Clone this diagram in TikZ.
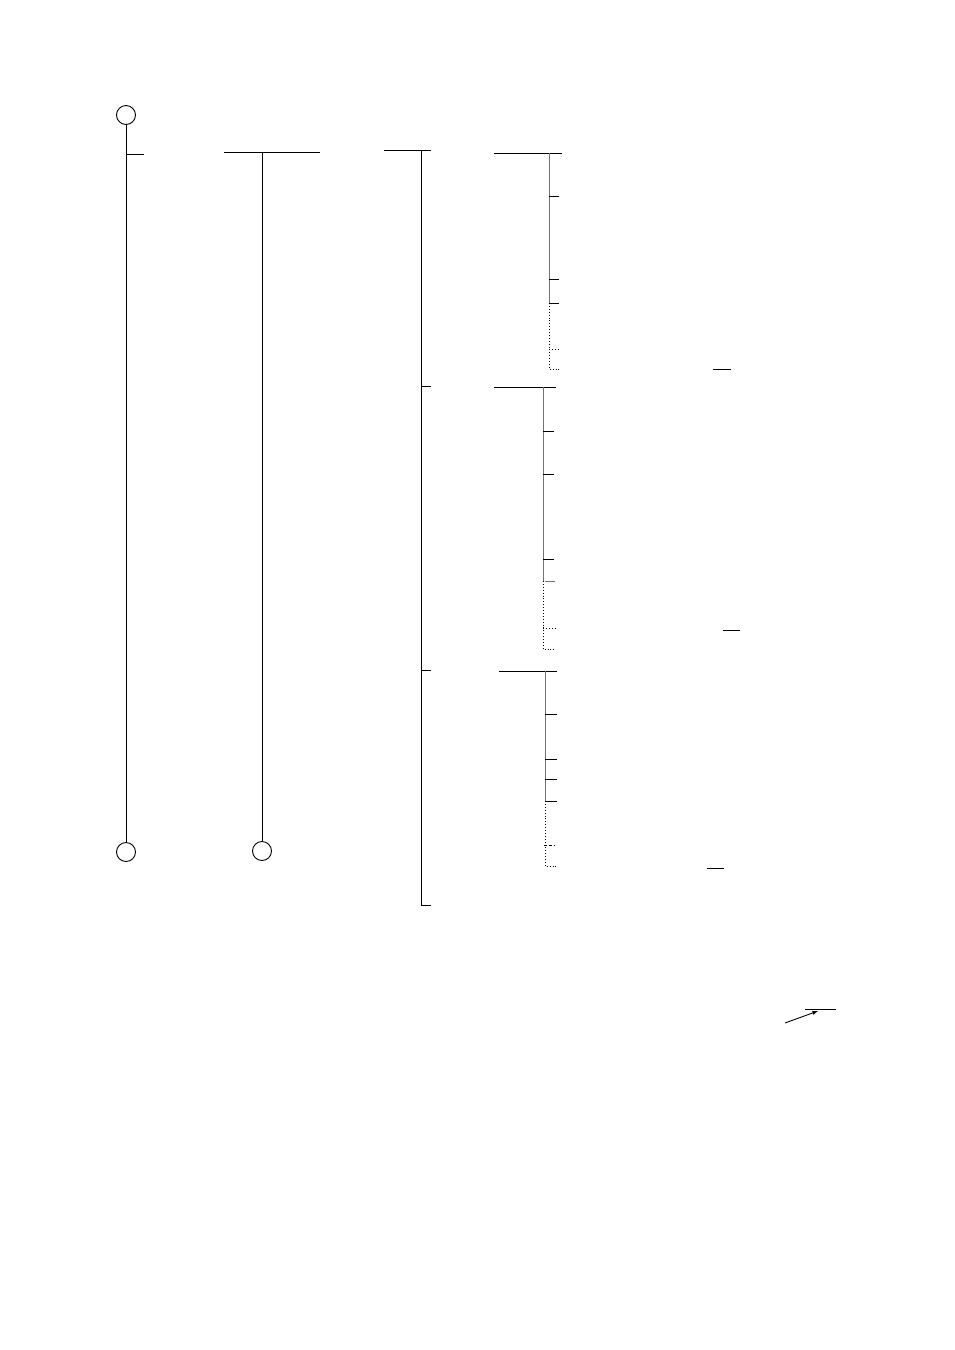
\documentclass[tikz,border=0pt]{standalone}
\usepackage{tikz}
\usetikzlibrary{arrows, calc}

\tikzset{
    port/.style={draw, circle, minimum size=19pt, inner sep=0pt, line width=0.9pt},
    stem/.style={line width=0.9pt},
    grey stem/.style={line width=1pt, black!55},
    open end/.style={line width=0.9pt, dotted},
}

\begin{document}
\begin{tikzpicture}[x=1pt, y=-1pt]
            \useasboundingbox (0,0) rectangle (954,1350);

            % left bus with two ports
            \node[port] (p1) at (126,115) {};
            \node[port] (p2) at (126,852) {};
            \draw[stem] (p1.south) -- (p2.north);
            \coordinate (t1) at (144,154);
            \draw[stem] (t1) -- (p1.south |- t1);

            % second bus
            \node[port] (p3) at (262,851) {};
            \coordinate (h2a) at (224,152);
            \coordinate (h2b) at (320,152);
            \draw[stem] (h2a) -- (h2b);
            \draw[stem] (p3.north |- h2a) -- (p3.north);

            % third bus
            \coordinate (h3a) at (384,150);
            \coordinate (h3b) at (431,150);
            \coordinate (h3c) at (421,905);
            \draw[stem] (h3a) -- (h3b);
            \draw[stem] (421,150) -- (h3c);
            \foreach \y in {386, 670, 905} {
                \draw[stem] (421,\y) -- (431,\y);
            }

            % branch groups: top / x of vertical / right end / end solid / end dotted
            \foreach \top\vx\hl\hr\sol\dot in {153/549/494/562/303/369, 387/543/494/556/581/649, 671/545/499/557/801/866} {
                \draw[stem] (\hl,\top) -- (\hr,\top);
                \draw[grey stem] (\vx,\top) -- (\vx,\sol);
                \draw[open end] (\vx,\sol) -- (\vx,\dot) -- (\vx+12,\dot);
            }

            % stubs on the first group
            \foreach \y in {196, 279, 303} {
                \draw[stem] (549,\y) -- (559,\y);
            }
            \draw[open end] (549,349) -- (560,349);

            % stubs on the second group
            \foreach \y in {431, 474, 559} {
                \draw[stem] (543,\y) -- (554,\y);
            }
            \draw[grey stem] (545,581) -- (555,581);
            \draw[open end] (543,628) -- (556,628);

            % stubs on the third group
            \foreach \y in {714, 759, 779, 801} {
                \draw[stem] (545,\y) -- (557,\y);
            }
            \draw[stem, dashed, dash pattern=on 3pt off 2pt] (544,845) -- (555,845);

            % short marks
            \draw[stem] (713,369) -- (731,369);
            \draw[stem] (723,630) -- (740,630);
            \draw[stem] (707,868) -- (724,868);

            % pointer
            \coordinate (ar1) at (785,1023);
            \coordinate (ar2) at (818,1011);
            \draw[stem, -latex] (ar1) -- (ar2);
            \draw[stem] (805,1009) -- (836,1009);
        \end{tikzpicture}
\end{document}
